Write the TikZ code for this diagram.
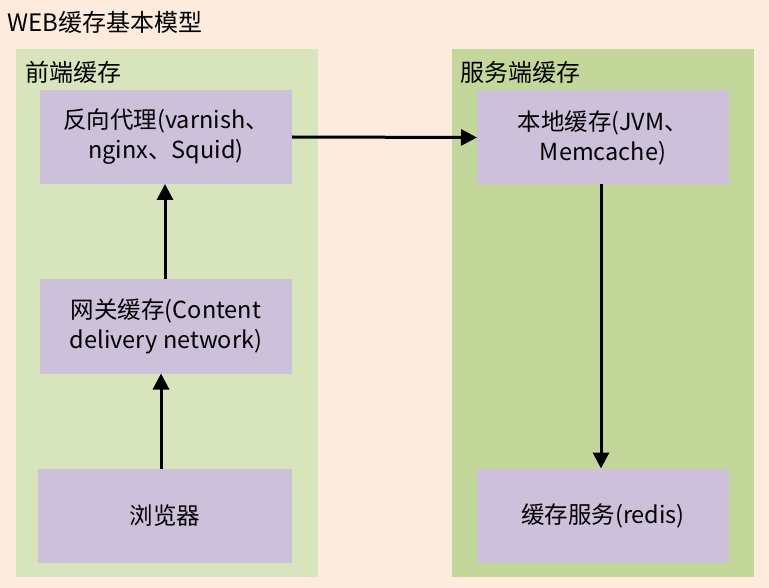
\documentclass[tikz,border=0pt]{standalone}
\usepackage{fontspec}
\setmainfont{Noto Sans CJK SC}
\usetikzlibrary{arrows.meta}
\definecolor{bgpeach}{HTML}{FDEBDD}
\definecolor{panelA}{HTML}{D8E4BC}
\definecolor{panelB}{HTML}{C4D79B}
\definecolor{boxlilac}{HTML}{CCC0DA}
\tikzset{
  cachebox/.style={fill=boxlilac, inner sep=0pt, outer sep=0pt, minimum width=252pt, minimum height=94pt, align=center, font=\fontsize{23.5}{30}\selectfont},
  lbl/.style={anchor=west, inner sep=0pt, font=\fontsize{24}{28}\selectfont},
  conn/.style={line width=3pt, -{Triangle[length=16pt,width=16pt]}},
}
\begin{document}
\begin{tikzpicture}[x=1pt,y=-1pt]
\fill[bgpeach] (0,0) rectangle (769,588);
\useasboundingbox (0,0) rectangle (769,588);
\fill[panelA] (16,49) rectangle (318,577);
\fill[panelB] (452,49) rectangle (754,577);
\node[lbl] (title) at (7,22) {WEB缓存基本模型};
\node[lbl] (lfront) at (25,72) {前端缓存};
\node[lbl] (lserver) at (460,72) {服务端缓存};
\node[cachebox] (proxy) at (166,137) {反向代理(varnish、\\nginx、Squid)};
\node[cachebox] (cdn) at (166,326.5) {网关缓存(Content\\delivery network)};
\node[cachebox, minimum width=254pt] (browser) at (165,515.5) {浏览器};
\node[cachebox] (local) at (603,137.5) {本地缓存(JVM、\\Memcache)};
\node[cachebox] (redis) at (603,515.5) {缓存服务(redis)};
\draw[conn] (browser.north -| 161,0) -- (cdn.south -| 161,0);
\draw[conn] (cdn.north -| 165,0) -- (proxy.south -| 165,0);
\draw[conn] (proxy.east) -- (local.west);
\draw[conn] (local.south -| 601,0) -- (redis.north -| 601,0);
\end{tikzpicture}
\end{document}
